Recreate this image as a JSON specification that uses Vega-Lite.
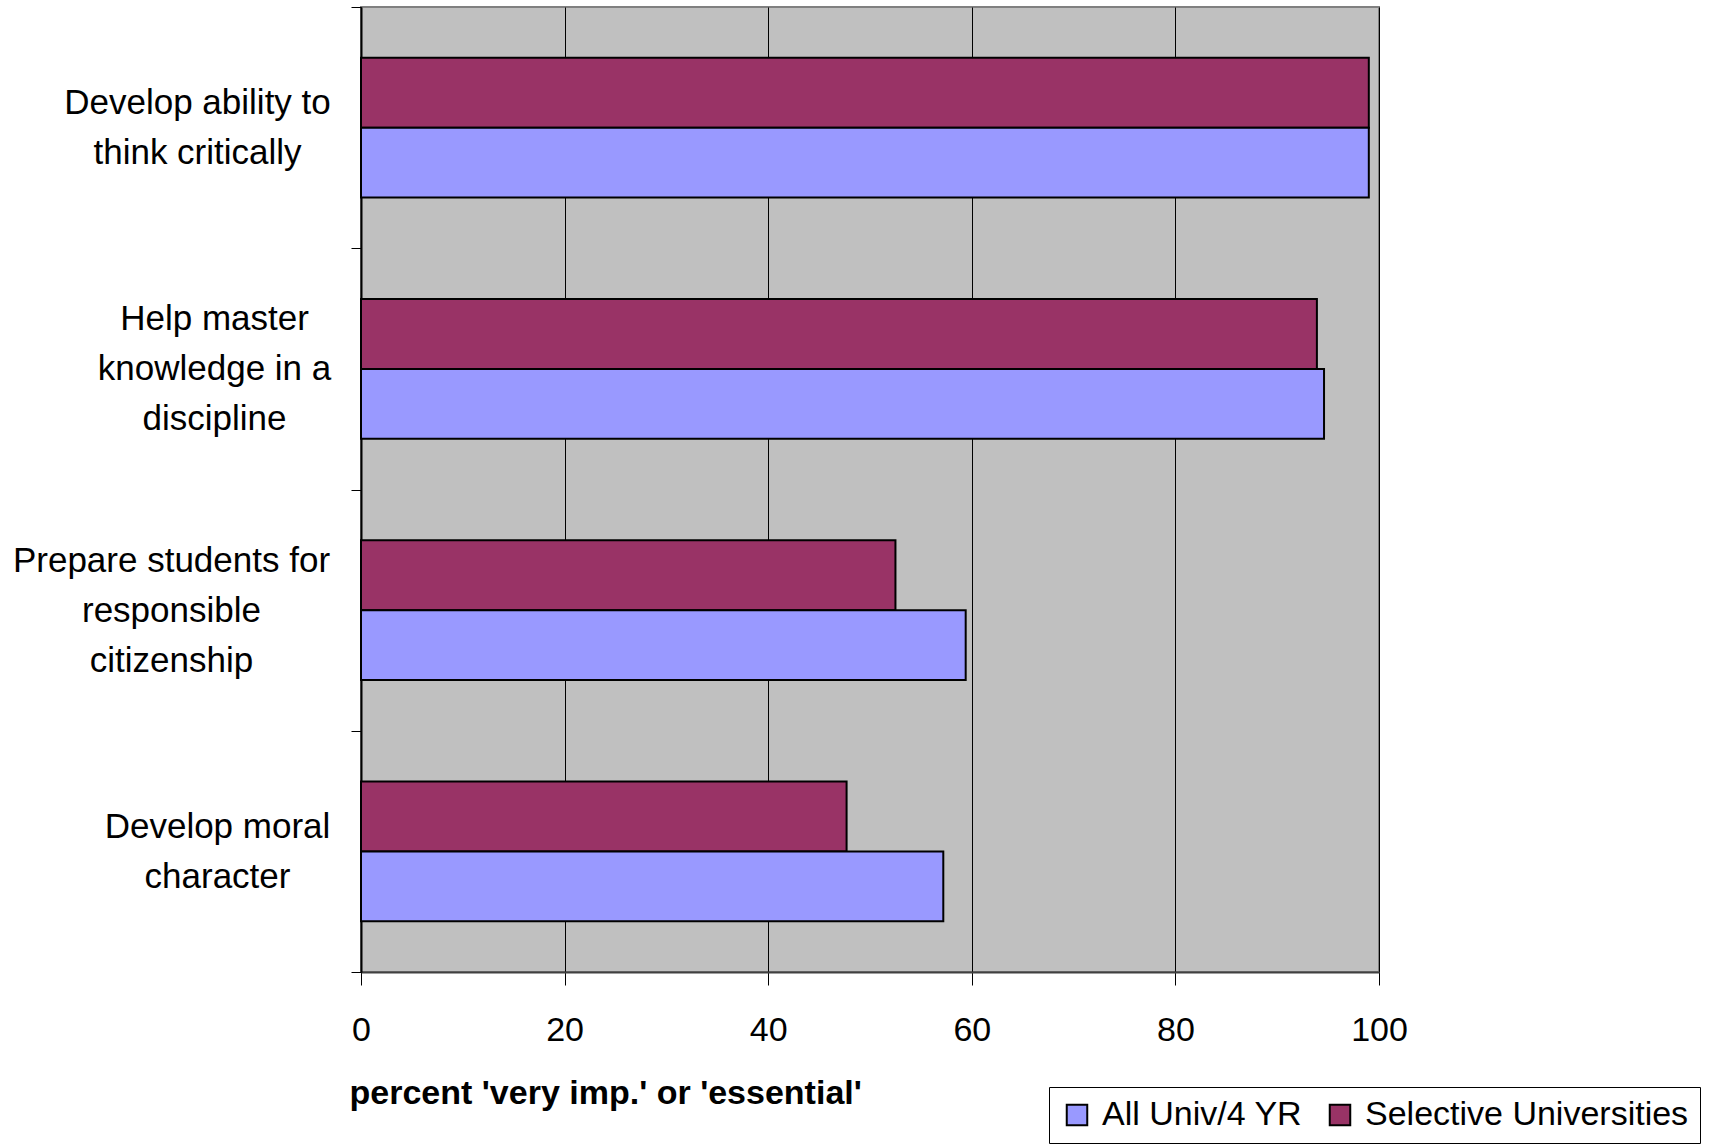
{
  "$schema": "https://vega.github.io/schema/vega-lite/v6.json",
  "width": 1018,
  "height": 965,
  "autosize": {"type": "none"},
  "padding": {"left": 361, "top": 7, "right": 333, "bottom": 173},
  "background": "white",
  "config": {
    "font": "Liberation Sans",
    "view": {"fill": "#C0C0C0", "stroke": "#808080", "strokeWidth": 2}
  },
  "data": {
    "values": [
      {"goal": "Develop ability to|think critically", "group": "Selective Universities", "pct": 99.0},
      {"goal": "Develop ability to|think critically", "group": "All Univ/4 YR", "pct": 99.0},
      {"goal": "Help master|knowledge in a|discipline", "group": "Selective Universities", "pct": 93.9},
      {"goal": "Help master|knowledge in a|discipline", "group": "All Univ/4 YR", "pct": 94.6},
      {"goal": "Prepare students for|responsible|citizenship", "group": "Selective Universities", "pct": 52.5},
      {"goal": "Prepare students for|responsible|citizenship", "group": "All Univ/4 YR", "pct": 59.4},
      {"goal": "Develop moral|character", "group": "Selective Universities", "pct": 47.7},
      {"goal": "Develop moral|character", "group": "All Univ/4 YR", "pct": 57.2}
    ]
  },
  "mark": {"type": "bar", "stroke": "black", "strokeWidth": 2},
  "encoding": {
    "y": {
      "field": "goal",
      "type": "nominal",
      "sort": null,
      "scale": {"paddingInner": 0, "paddingOuter": 0},
      "axis": {
        "title": null,
        "labelExpr": "split(datum.label, '|')",
        "labelFontSize": 35,
        "labelColor": "black",
        "labelAlign": "center",
        "labelBaseline": "middle",
        "labelLineHeight": 50,
        "labelPadding": {
          "condition": [
            {"test": "datum.value == 'Develop ability to|think critically'", "value": 154},
            {"test": "datum.value == 'Help master|knowledge in a|discipline'", "value": 137},
            {"test": "datum.value == 'Prepare students for|responsible|citizenship'", "value": 180}
          ],
          "value": 134
        },
        "labelOffset": {
          "condition": [
            {"test": "datum.value == 'Help master|knowledge in a|discipline'", "value": -50},
            {"test": "datum.value == 'Prepare students for|responsible|citizenship'", "value": -50}
          ],
          "value": -25
        },
        "labelLimit": 400,
        "tickBand": "extent",
        "tickColor": "black",
        "tickSize": 10,
        "domainColor": "black",
        "domainWidth": 2,
        "grid": false
      }
    },
    "yOffset": {
      "field": "group",
      "type": "nominal",
      "sort": ["Selective Universities", "All Univ/4 YR"],
      "scale": {"paddingInner": 0, "paddingOuter": 0.724}
    },
    "x": {
      "field": "pct",
      "type": "quantitative",
      "scale": {"domain": [0, 100], "nice": false},
      "axis": {
        "title": "percent 'very imp.' or 'essential'",
        "values": [0, 20, 40, 60, 80, 100],
        "labelFontSize": 34,
        "labelColor": "black",
        "labelPadding": 28,
        "labelFlush": false,
        "tickColor": "black",
        "tickSize": 13,
        "domainColor": "#404040",
        "domainWidth": 2,
        "grid": true,
        "gridColor": "black",
        "gridWidth": 1,
        "titleFontSize": 34,
        "titleFontWeight": "bold",
        "titleColor": "black",
        "titleAnchor": "start",
        "titleAlign": "left",
        "titleBaseline": "alphabetic",
        "titleX": -12,
        "titleY": 131
      }
    },
    "color": {
      "field": "group",
      "type": "nominal",
      "scale": {
        "domain": ["All Univ/4 YR", "Selective Universities"],
        "range": ["#9999FF", "#993366"]
      },
      "legend": {
        "title": null,
        "orient": "none",
        "direction": "horizontal",
        "legendX": 688,
        "legendY": 1080,
        "labelFontSize": 34,
        "labelColor": "black",
        "labelLimit": 500,
        "symbolType": "square",
        "symbolSize": 420,
        "symbolStrokeColor": "black",
        "symbolStrokeWidth": 2,
        "symbolOpacity": 1,
        "columnPadding": 20,
        "labelOffset": 8,
        "strokeColor": "black",
        "fillColor": "white",
        "padding": 11
      }
    }
  }
}
